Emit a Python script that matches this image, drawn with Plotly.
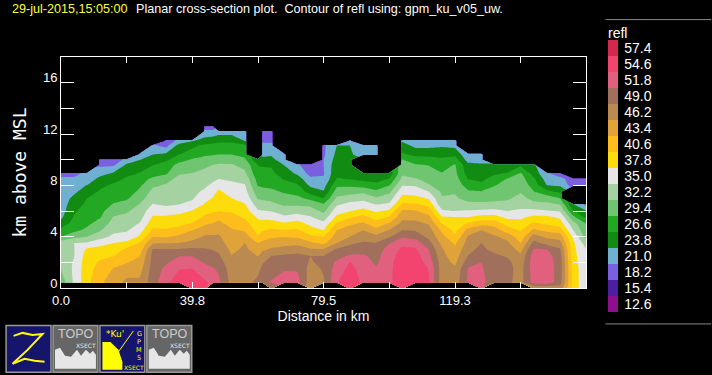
import numpy as np
import plotly.graph_objects as go

N = None
distance_km = sorted([3.98 * j for j in range(41)] + [46.1, 61.1])
heights_km = [0, 0.45, 1.5, 2, 2.5, 3, 3.5, 4, 4.5, 5, 5.5, 6, 6.5, 7, 7.5, 8, 8.5, 8.9, 9.6, 10, 10.4, 11.1, 11.45, 12.2, 12.55, 13]
levels = [12.6, 15.4, 18.2, 21.0, 23.8, 26.6, 29.4, 32.2, 35.0, 37.8, 40.6, 43.4, 46.2, 49.0, 51.8, 54.6, 57.4]
level_colors = ["#8E0E8E", "#4B1FA0", "#7A5FE0", "#6FB0D2", "#118B11", "#22A822", "#70C670", "#A4D2A0",
                "#E6E6E6", "#FDDC0B", "#FDBE1B", "#E0A33A", "#BB8A50", "#A0705C", "#E0607E", "#F2446F", "#D4294C"]
# reflectivity at the surface, only in columns that reach it
surface_refl = {10: 56.6, 11: 55, 18: 50, 21: 47.5, 24: 56.5, 28: 56.5, 34: 52, 38: 47, 39: 47, 40: 48, 41: 39.5, 42: 35.5}
# each column: refl from the lowest gate upward
refl_columns = [
 [30.5,32.3,33,33.7,34.7,34,29.4,27.5,25,23.3,22.5,22.5,22.5,22.5,22.3,21.4,20.3],
 [35.5,35.6,35.3,34.9,34.9,35,31.3,28.7,27.7,26.9,26.2,25.2,24.4,23.3,22.5,21.4,20.3],
 [39.8,39.6,39.5,39.2,38.4,35.3,32.2,30,28.9,28.4,27.9,27.3,26.6,25.3,23.9,22,21.8],
 [43,41.6,41,39.9,38.6,37,33.8,32,30.6,29.3,28.7,28.1,27.5,27,26,24.8,22.8,20.5,19],
 [44.5,43.6,42,40.5,39.2,37.8,35.7,34.3,33.3,32.4,31,29.6,28.7,27.8,27,25.7,24.4,20.5,19],
 [47,44.5,43.2,42.1,41.2,38.5,36,34.7,33.7,32.9,31.8,30.4,29,28,27.6,27,26,24.2,22],
 [46.7,45.2,44.3,43.3,42,40.9,38.3,36.7,35.2,34,33.4,32.4,31,30,29,28.2,26.8,25.3,23.7,22],
 [50.5,50.2,50,49.9,49.3,46,43.4,41.1,39.5,38.2,36.7,35.2,34,33,31.7,30,28.2,26.5,25.2,23.8,21.5],
 [53.8,52.5,51.4,50.2,49.2,46.1,43.1,40.9,39.4,38.3,36.5,34.5,33.9,33.2,32.5,31.2,29.1,27.8,26.1,24.4,20,19],
 [56.3,54.5,53.1,51.7,49.3,46.2,44,41.7,39.9,38.7,37,35,34.5,34,33.5,33,32,30.3,28.3,26.6,25,22],
 [56.6,54.6,53,51.7,49.5,47.2,44.9,43.4,40.9,39.3,38,35.7,34.7,34.1,33.5,32.9,32.3,31,29.7,27.9,26,23.7],
 [55,52.6,51.5,50,49.2,47.9,46.7,44.9,43.1,41.2,39.8,38.2,36.9,35.7,34.5,33.6,32.7,31.9,30.4,29,27.2,25,22,19],
 [53.7,52,51,49.7,48.9,47.7,46.6,45.1,43.6,41.9,40.2,39,38,37,35.8,34.3,33.2,32.2,30.7,29.2,27.5,25.5,22,19],
 [52.4,51.4,50.4,49.4,48.5,47.5,46.6,45.4,44.2,42.6,40.5,39.8,39,38.2,37.2,35,33.7,32.5,31,29.4,27.8,26,22.5],
 [48,47.5,47,46.3,45.5,44.8,44.2,43.7,42.5,41.5,40.3,39,37.8,36.8,35.7,34.6,33.5,32.4,31,29.4,27.8,26,22.5],
 [48.3,48,47.7,47.3,46.8,46.2,44.8,43.1,41.8,40.3,39.2,38,36.9,36,35.2,34.1,32.8,31.3,29.9,28.6,27.2,23.8,22.5],
 [49.5,48.4,47.5,46.1,44.8,43.4,40.9,39.6,38.6,37.4,35.3,33.7,31.9,30.5,29.2,28.3,27.4,26.5,24],
 [51,49.5,48.8,47.6,45.7,44.1,42,40.4,38.8,37.2,35.1,33.4,31.7,30.2,29,28.2,27.5,26.3,24.3,23.3,21.8,20.5,19],
 [52,50.6,50,49,46.6,44.8,43,41.1,39,37,34.9,33,31.4,30,28.8,28.1,27.5,26.2,24.7,23.4,21.8,20.5,19],
 [53.3,51.5,50.5,49.4,47.2,45.2,43.3,40.8,38.3,35.6,33.7,31.8,30.4,29.1,27.8,26.4,25,23.7,22,21],
 [53,51.5,50.5,49.6,48,45.2,43,41,39,36.5,33.9,31.8,30,28.5,27,25.2,23.5,21.5],
 [47.5,48,48.7,49,46.5,44,41.2,39,37.1,35.3,33.7,31.5,28.6,25.4,23.2,21.7,20,18.8],
 [48.7,49.3,49.8,49,46.5,42.8,40.6,37.8,35.9,33.6,31.5,29.8,26.6,24,22.7,21.3,20.8,21,21,20.5,20.5],
 [54.3,53.2,52.3,50.8,49.5,46.2,44.6,43.4,41.1,38.6,36.6,34.6,32.7,30.8,28.9,26.8,26.1,25.7,25,24.5,23.8],
 [56.5,55.3,54.7,52.2,50.2,48.5,46.2,44.8,42.9,40.4,37.7,36,33.5,31.1,28.9,26.5,25.9,25.4,25,24.4,23.8,22],
 [54,53.8,53.2,52.2,50.7,49.3,47.9,46.2,43.9,41.7,38.9,36.2,34.2,31.6,28.2,25.8,24.2,N,N,22,22],
 [53,52,51.3,50.9,50.4,49.1,47,44.3,42,39.5,37.4,35,32.6,30,27.4,25.5,24,N,N,22,22],
 [54,54,53.9,53.5,53,51.6,48.7,46.4,43.7,41,38.4,35.5,33.6,31.6,29.3,26.8,24.6],
 [56.5,56.3,56.1,55.8,55.2,53.8,51.5,49.1,47.1,45.5,43.9,41.1,38.8,36.9,34.9,33,31.8,30.7,29.5,27,25,23.5],
 [56.5,56.2,56,55.7,55,53.3,50.8,48.8,47.1,45.3,43.6,41,38.7,36.4,34.8,32.4,30.8,29.6,28,25.9,23,21],
 [55,54.5,53.6,52.7,51.8,50,48.3,47.4,46,44.3,42.1,39.9,37.5,35.1,32.4,31.4,30.3,29.3,27.8,25.9,23,21],
 [47.5,47.7,47.5,47,46.5,45.6,44.4,42.9,40.6,38.2,35.5,33.1,32.4,31.8,31,30.3,29.6,28,27.1,25.7,23.4,21.5],
 [47.5,46.7,45.6,44.9,44.1,43,41,39.8,38.9,38,35,33.9,32.7,31.9,31.1,30.6,30.1,29.6,28,25.9,23,21],
 [52.3,52,50.5,49.1,48.2,47.3,46.6,44.4,41.1,38,35.2,33.2,31,29.8,28.2,26.5,25.5,24.6,22.5,21.5],
 [52.5,52.1,51.8,50.6,49.7,49,47.4,46.2,42.6,39,35.5,33,31,29.6,27.4,25.9,24.9,24.2,22.5,21.5],
 [50.5,50.5,50.3,49.6,48.2,47.4,46.6,44.7,42.5,39,35.7,33,31.4,30.4,29.3,27.8,26.2,24],
 [49.6,50,49.7,48.7,47.6,46.7,45.3,41.9,39.6,37.2,35,33.1,31.8,30.8,30.2,29.6,27,24],
 [48,47.8,47.5,46.8,45.3,43.4,41.8,40.3,39,37.3,35.5,33.8,33,32,31.3,30.6,29.9,26],
 [53,53.5,53.5,53.3,52.1,50,47.5,44,41.2,38.7,35.7,33.1,31.3,29.5,28.2,27.1,25.5,24],
 [53.5,53.5,53.3,53,51.8,47.9,45.6,42.7,40.2,38.6,35.2,33,30.9,27.5,23.8,22.5,21.5],
 [50.3,50.5,50.4,50,49.4,47.2,45.1,41.9,39.3,37.4,34.8,32.2,29.4,26,23.4,21.9,19.5],
 [39.5,39.2,39,38.8,38.6,38.4,37.3,35,33.3,30.3,26.8,24,N,N,19.5,19.5],
 [35.5,35.8,35.5,35.3,35,33.5,31,30,29.5,26,24,20,N,N,19.5,19.5],
]
tick_km = [19.9 * i for i in range(9)]
tick_km_labels = ["0.0", "", "39.8", "", "79.5", "", "119.3", "", "159.1"]
height_ticks = list(range(0, 18, 2))
height_labels = ["0", "", "4", "", "8", "", "12", "", "16"]

# assemble the height x distance grid
grid = np.full((len(heights_km), len(distance_km)), np.nan)
for j, col in enumerate(refl_columns):
    if j in surface_refl:
        grid[0, j] = surface_refl[j]
    for i, v in enumerate(col):
        if v is not None:
            grid[i + 1, j] = v

step = 2.8
top = levels[-1] + step
scale = []
for i, c in enumerate(level_colors):
    scale += [[i / len(level_colors), c], [(i + 1) / len(level_colors), c]]

W, H = 712, 375
L, R, T, B = 60.5, 586.5, 56.5, 288


def px(x):
    return (x - L) / (R - L)


def py(y):
    return (B - y) / (B - T)


fig = go.Figure(go.Contour(
    x=distance_km, y=heights_km, z=grid,
    zmin=levels[0], zmax=top, colorscale=scale,
    autocontour=False, connectgaps=False,
    contours=dict(start=levels[0], end=top, size=step, coloring="fill", showlines=False),
    line=dict(width=0, smoothing=0),
    hoverinfo="skip",
    colorbar=dict(
        xref="container", yref="container", x=608 / W, y=1 - 65 / H, xanchor="left", yanchor="top",
        len=272, lenmode="pixels", thickness=10, thicknessmode="pixels", xpad=0, ypad=0,
        outlinewidth=0, borderwidth=0, bgcolor="rgba(0,0,0,0)",
        tickmode="array", tickvals=[v + step / 2 for v in levels], ticktext=[f"{v:.1f}" for v in levels],
        ticks="outside", ticklen=4, tickcolor="black", tickwidth=0,
        tickfont=dict(family="Liberation Sans", size=14, color="white"),
    ),
))

axis_common = dict(showgrid=False, zeroline=False, showline=True, linecolor="white", linewidth=1,
                   mirror="ticks", ticks="inside", tickcolor="white", tickwidth=1,
                   tickfont=dict(family="Liberation Sans", size=13, color="white"))
fig.update_xaxes(range=[0, 159.1], tickmode="array", tickvals=tick_km, ticktext=tick_km_labels, ticklen=6,
                 title=dict(text="Distance in km", standoff=3, font=dict(family="Liberation Sans", size=14, color="white")),
                 **axis_common)
fig.update_yaxes(range=[0, 18], tickmode="array", tickvals=height_ticks, ticktext=height_labels, ticklen=13,
                 ticklabelshift=-5,
                 title=dict(text="km above MSL", standoff=11, font=dict(family="DejaVu Sans Mono", size=18, color="white")),
                 **axis_common)

shapes = []
annots = []


def box(x0, y0, x1, y1, fill, line="rgba(0,0,0,0)", w=0):
    shapes.append(dict(type="rect", xref="paper", yref="paper", x0=px(x0), x1=px(x1), y0=py(y0), y1=py(y1),
                       fillcolor=fill, line=dict(color=line, width=w)))


def poly(points, fill="rgba(0,0,0,0)", line="rgba(0,0,0,0)", w=0):
    d = "M" + " L".join(f"{px(a):.5f},{py(b):.5f}" for a, b in points)
    if fill != "rgba(0,0,0,0)":
        d += " Z"
    shapes.append(dict(type="path", xref="paper", yref="paper", path=d, fillcolor=fill, line=dict(color=line, width=w)))


def text(x, y, s, color="white", size=13, family="Liberation Sans", anchor="left"):
    annots.append(dict(x=px(x), y=py(y), xref="paper", yref="paper", text=s, showarrow=False, xanchor=anchor,
                       yanchor="middle", font=dict(color=color, size=size, family=family), borderpad=0,
                       align="left"))


text(10, 8, "29-jul-2015,15:05:00", color="#FFFF33", size=12.6)
text(135, 8, "Planar cross-section plot.  Contour of refl using: gpm_ku_v05_uw.", size=12.6)
text(608, 32, "refl", size=14)
# legend rules
poly([(606, 19), (712, 19)], line="#888888", w=1)
poly([(606, 324), (712, 324)], line="#888888", w=1)

# buttons
box(5.5, 325.5, 50.5, 372.5, "#15156B", "#999999", 1.5)
poly([(13, 336), (22, 333), (32, 335), (42, 334), (27, 350), (12, 364), (24, 359), (34, 361), (44, 362)], line="#FFFF00", w=2)
for x0 in (52.5, 146.5):
    box(x0, 325.5, x0 + 45, 372.5, "#666666", "#999999", 1.5)
    a = x0 + 2
    poly([(a, 369), (a, 350), (a + 5, 348), (a + 10, 356), (a + 16, 357), (a + 22, 350), (a + 26, 356), (a + 31, 350), (a + 35, 354), (a + 38, 351), (a + 41, 355), (a + 41, 369)], fill="#E6E6E6")
    text(x0 + 22.5, 334, "TOPO", color="#CCCCCC", size=12.5, anchor="center")
    text(x0 + 33, 346, "XSECT", color="#E6E6E6", size=6, anchor="center", family="DejaVu Sans")
box(99.5, 325.5, 144.5, 372.5, "#15156B", "#999999", 1.5)
poly([(102, 342), (110, 342), (118, 350), (122, 362), (122, 370), (102, 370)], fill="#FFFF00")
poly([(118, 352), (133, 331)], line="#FFFF00", w=1)
text(105, 334, "*Ku'", color="#FFFF00", size=9, family="DejaVu Sans")
for s, yy in zip("GPM5", (334, 342, 350, 358)):
    text(139, yy, s, color="#FFFF00", size=6.5, family="DejaVu Sans", anchor="center")
text(123, 368, "XSECT", color="#FFFF00", size=6, family="DejaVu Sans")

fig.update_layout(
    width=W, height=H, autosize=False,
    margin=dict(l=L, r=W - R, t=T, b=H - B, pad=0),
    paper_bgcolor="black", plot_bgcolor="black",
    shapes=shapes, annotations=annots, showlegend=False,
)
fig.write_html("out.html", config=dict(displayModeBar=False),
               post_script="document.body.style.margin='0';document.body.style.background='black';document.body.style.overflow='hidden';")
